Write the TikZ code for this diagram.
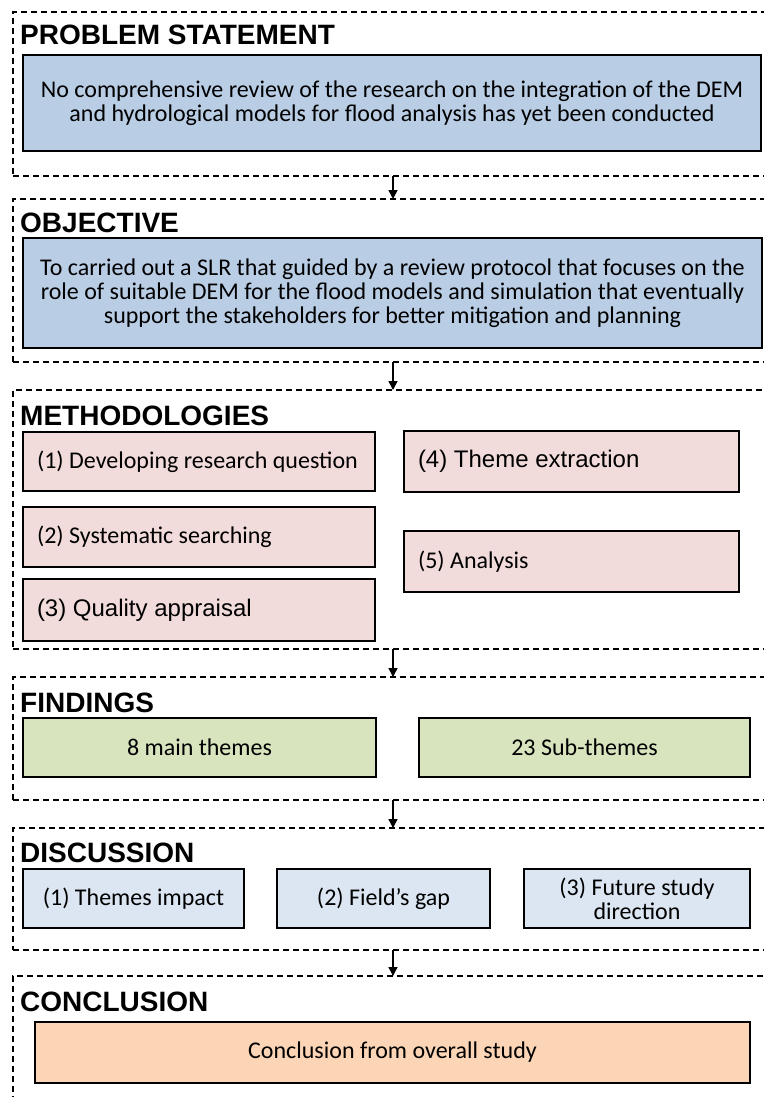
\documentclass[tikz,border=0pt]{standalone}
\usepackage{fontspec}
\setmainfont{Carlito}
\newfontfamily\calfont{Carlito}
\newfontfamily\arifont{Liberation Sans}
\usetikzlibrary{arrows.meta}
\definecolor{blueA}{HTML}{B9CDE5}
\definecolor{pinkA}{HTML}{F2DCDB}
\definecolor{greenA}{HTML}{D7E4BD}
\definecolor{blueB}{HTML}{DCE6F2}
\definecolor{orangeA}{HTML}{FBD5B5}
\tikzset{
  section/.style={draw, dash pattern=on 6pt off 4pt, line width=1.2pt, anchor=north west, inner sep=0pt, outer sep=0pt},
  box/.style={draw, line width=2.5pt, anchor=north west, inner sep=0pt, outer sep=0pt},
  sectitle/.style={anchor=base west, inner sep=0pt, font=\arifont\bfseries\fontsize{28}{28}\selectfont},
  caltext/.style={font=\calfont\fontsize{24}{24}\selectfont},
  aritext/.style={font=\arifont\fontsize{24}{24}\selectfont},
  arr/.style={line width=1.5pt, -{Triangle[length=9pt,width=9pt]}},
}
\begin{document}
\begin{tikzpicture}[x=1pt,y=-1pt]
\fill[white] (0,0) rectangle (763,1097);
\useasboundingbox (0,0) rectangle (763,1097);
\coordinate (ax) at (393,0);

% sections
\node[section, minimum width=770pt, minimum height=164pt] (s1) at (13,12) {};
\node[section, minimum width=770pt, minimum height=163pt] (s2) at (13,199) {};
\node[section, minimum width=770pt, minimum height=259pt] (s3) at (13,390) {};
\node[section, minimum width=770pt, minimum height=123pt] (s4) at (13,677) {};
\node[section, minimum width=770pt, minimum height=122pt] (s5) at (13,828) {};
\node[section, minimum width=770pt, minimum height=150pt] (s6) at (13,976) {};

% titles
\node[sectitle] (t1) at (20,45) {PROBLEM STATEMENT};
\node[sectitle] (t2) at (20,232) {OBJECTIVE};
\node[sectitle] (t3) at (20,425) {METHODOLOGIES};
\node[sectitle] (t4) at (20,712) {FINDINGS};
\node[sectitle] (t5) at (20,862) {DISCUSSION};
\node[sectitle] (t6) at (20,1011) {CONCLUSION};

% problem
\node[box, fill=blueA, minimum width=738pt, minimum height=96pt, align=center, caltext] (p) at (23,55)
  {No comprehensive review of the research on the integration of the DEM\\and hydrological models for flood analysis has yet been conducted};

% objective
\node[box, fill=blueA, minimum width=739pt, minimum height=110pt, align=center, caltext] (o) at (23,238)
  {To carried out a SLR that guided by a review protocol that focuses on the\\role of suitable DEM for the flood models and simulation that eventually\\support the stakeholders for better mitigation and planning};

% methodologies
\node[box, fill=pinkA, minimum width=352pt, minimum height=59pt, caltext] (m1) at (23,432) {\makebox[324pt][l]{(1) Developing research question}};
\node[box, fill=pinkA, minimum width=352pt, minimum height=60pt, caltext] (m2) at (23,507) {\makebox[324pt][l]{(2) Systematic searching}};
\node[box, fill=pinkA, minimum width=352pt, minimum height=62pt, aritext] (m3) at (23,579) {\makebox[324pt][l]{(3) Quality appraisal}};
\node[box, fill=pinkA, minimum width=335pt, minimum height=61pt, aritext] (m4) at (404,431) {\makebox[307pt][l]{(4) Theme extraction}};
\node[box, fill=pinkA, minimum width=335pt, minimum height=61pt, caltext] (m5) at (404,531) {\makebox[307pt][l]{(5) Analysis}};

% findings
\node[box, fill=greenA, minimum width=353pt, minimum height=59pt, align=center, caltext] (f1) at (23,718) {8 main themes};
\node[box, fill=greenA, minimum width=331pt, minimum height=59pt, align=center, caltext] (f2) at (419,718) {23 Sub-themes};

% discussion
\node[box, fill=blueB, minimum width=221pt, minimum height=59pt, align=center, caltext] (d1) at (23,869) {(1) Themes impact};
\node[box, fill=blueB, minimum width=213pt, minimum height=59pt, align=center, caltext] (d2) at (277,869) {(2) Field’s gap};
\node[box, fill=blueB, minimum width=226pt, minimum height=59pt, align=center, caltext] (d3) at (524,869) {(3) Future study\\direction};

% conclusion
\node[box, fill=orangeA, minimum width=715pt, minimum height=61pt, align=center, caltext] (c) at (35,1022) {Conclusion from overall study};

% arrows
\draw[arr] (s1.south -| ax) -- (s2.north -| ax);
\draw[arr] (s2.south -| ax) -- (s3.north -| ax);
\draw[arr] (s3.south -| ax) -- (s4.north -| ax);
\draw[arr] (s4.south -| ax) -- (s5.north -| ax);
\draw[arr] (s5.south -| ax) -- (s6.north -| ax);
\end{tikzpicture}
\end{document}
